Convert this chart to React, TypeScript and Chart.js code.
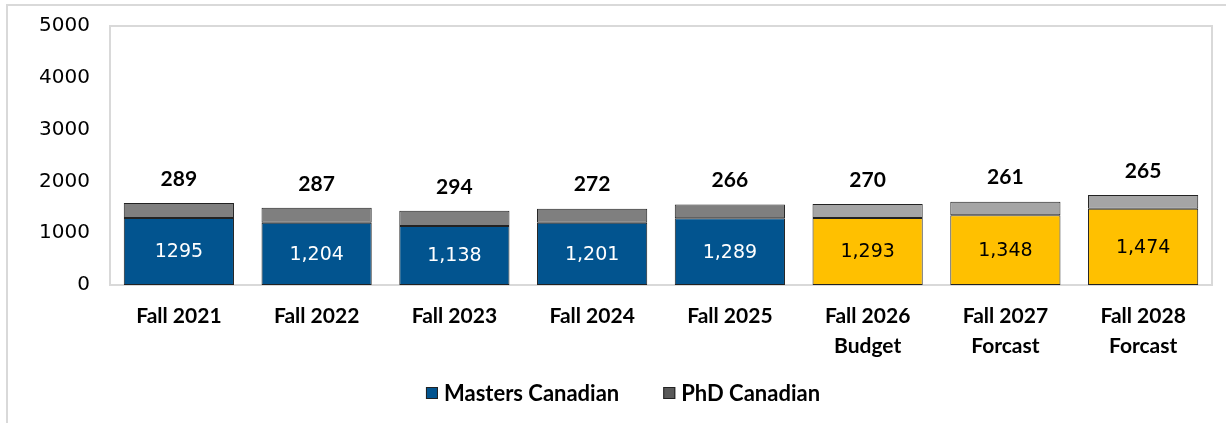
import React, { useEffect, useRef } from "react";
import { Chart, registerables } from "chart.js";

Chart.register(...registerables);

const categories: (string | string[])[] = [
  "Fall 2021",
  "Fall 2022",
  "Fall 2023",
  "Fall 2024",
  "Fall 2025",
  ["Fall 2026", "Budget"],
  ["Fall 2027", "Forcast"],
  ["Fall 2028", "Forcast"],
];
const mastersValues = [1295, 1204, 1138, 1201, 1289, 1293, 1348, 1474];
const mastersLabels = ["1295", "1,204", "1,138", "1,201", "1,289", "1,293", "1,348", "1,474"];
const phdValues = [289, 287, 294, 272, 266, 270, 261, 265];
const yTicks = [0, 1000, 2000, 3000, 4000, 5000];
const legendNames = ["Masters Canadian", "PhD Canadian"];

const BLUE = "#02548F";
const YELLOW = "#FFC000";
const GRAY = "#7F7F7F";
const LIGHT_GRAY = "#A5A5A5";
const LEGEND_GRAY = "#595959";
const actualCount = 5;

const mastersColors = mastersValues.map((_, i) => (i < actualCount ? BLUE : YELLOW));
const phdColors = phdValues.map((_, i) => (i < actualCount ? GRAY : LIGHT_GRAY));

const boldFont = "Lato, 'Open Sans', sans-serif";
const plainFont = "'DejaVu Sans', sans-serif";

const framePlugin = {
  id: "frame",
  beforeDraw(chart: any) {
    const ctx = chart.ctx;
    ctx.save();
    ctx.strokeStyle = "#D9D9D9";
    ctx.lineWidth = 2;
    ctx.beginPath();
    ctx.moveTo(7, 430);
    ctx.lineTo(7, 5);
    ctx.lineTo(1230, 5);
    ctx.stroke();
    const a = chart.chartArea;
    ctx.strokeRect(a.left, a.top, a.right - a.left, a.bottom - a.top);
    ctx.restore();
  },
};

const legendPlugin = {
  id: "customLegend",
  afterDraw(chart: any) {
    const ctx = chart.ctx;
    ctx.save();
    ctx.font = `bold 22px ${boldFont}`;
    ctx.textBaseline = "middle";
    const box = 12;
    const gapText = 6;
    const gapItems = 44;
    const colors = [BLUE, LEGEND_GRAY];
    const widths = legendNames.map((n) => box + gapText + ctx.measureText(n).width);
    const total = widths.reduce((a, b) => a + b, 0) + gapItems * (legendNames.length - 1);
    let x = 623 - total / 2;
    const y = 393;
    legendNames.forEach((n, i) => {
      ctx.fillStyle = colors[i];
      ctx.fillRect(x, y - box / 2, box, box);
      ctx.strokeStyle = "#222";
      ctx.lineWidth = 1;
      ctx.strokeRect(x + 0.5, y - box / 2 + 0.5, box - 1, box - 1);
      ctx.fillStyle = "#000";
      ctx.fillText(n, x + box + gapText, y + 1);
      x += widths[i] + gapItems;
    });
    ctx.restore();
  },
};

const labelPlugin = {
  id: "valueLabels",
  afterDatasetsDraw(chart: any) {
    const ctx = chart.ctx;
    ctx.save();
    ctx.textAlign = "center";
    ctx.textBaseline = "middle";
    const m = chart.getDatasetMeta(0);
    m.data.forEach((el: any, i: number) => {
      ctx.font = `19px ${plainFont}`;
      ctx.fillStyle = i < actualCount ? "#FFFFFF" : "#000000";
      ctx.fillText(mastersLabels[i], el.x, (el.y + el.base) / 2 + 1);
    });
    const p = chart.getDatasetMeta(1);
    p.data.forEach((el: any, i: number) => {
      ctx.font = `bold 21px ${boldFont}`;
      ctx.fillStyle = "#000000";
      ctx.fillText(String(phdValues[i]), el.x, el.y - 24);
    });
    ctx.restore();
  },
};

export default function App() {
  const ref = useRef<HTMLCanvasElement>(null);
  useEffect(() => {
    if (!ref.current) return;
    const chart = new Chart(ref.current, {
      type: "bar",
      data: {
        labels: categories,
        datasets: [
          {
            label: legendNames[0],
            data: mastersValues,
            backgroundColor: mastersColors,
            borderColor: "#222222",
            borderWidth: 1,
            borderSkipped: false,
            barPercentage: 0.8,
            categoryPercentage: 1,
          },
          {
            label: legendNames[1],
            data: phdValues,
            backgroundColor: phdColors,
            borderColor: "#222222",
            borderWidth: 1,
            borderSkipped: false,
            barPercentage: 0.8,
            categoryPercentage: 1,
          },
        ],
      },
      options: {
        animation: false,
        responsive: false,
        maintainAspectRatio: false,
        layout: { padding: { left: 0, top: 26, right: 14, bottom: 48 } },
        plugins: {
          tooltip: { enabled: false },
          legend: { display: false },
        },
        scales: {
          x: {
            stacked: true,
            clip: false,
            grid: { display: false },
            border: { display: false },
            ticks: {
              color: "#000",
              font: { family: boldFont, size: 21, weight: "bold", lineHeight: 1.45 },
              padding: 8,
              maxRotation: 0,
              autoSkip: false,
            },
            afterFit(scale: any) {
              scale.height = 90;
            },
          },
          y: {
            stacked: true,
            min: 0,
            max: 5000,
            afterBuildTicks(scale: any) {
              scale.ticks = yTicks.map((v) => ({ value: v }));
            },
            grid: { display: false },
            border: { display: false },
            ticks: {
              color: "#000",
              font: { family: plainFont, size: 20 },
              padding: 12,
              callback: (v: any) => String(v),
            },
            afterFit(scale: any) {
              scale.width = 110;
            },
          },
        },
      } as any,
      plugins: [framePlugin, labelPlugin, legendPlugin],
    });
    return () => chart.destroy();
  }, []);
  return (
    <div style={{ position: "fixed", left: 0, top: 0, width: 1226, height: 423, background: "#fff" }}>
      <canvas ref={ref} width={1226} height={423} style={{ width: 1226, height: 423 }} />
    </div>
  );
}
